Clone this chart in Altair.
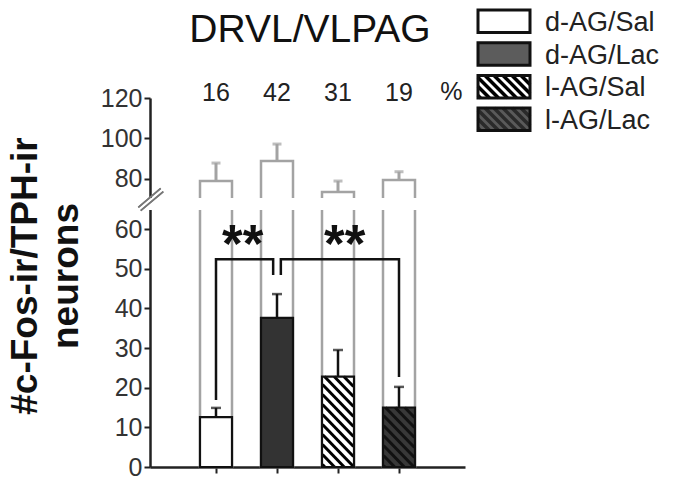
import altair as alt
import pandas as pd

# ---- data ----
groups = ["d-AG/Sal", "d-AG/Lac", "l-AG/Sal", "l-AG/Lac"]
positions = [1, 2, 3, 4]
total_tph = [78.9, 88.8, 73.5, 79.4]
total_err = [8.9, 8.4, 5.4, 4.1]
cfos = [12.6, 37.6, 22.8, 15.0]
cfos_err = [2.3, 6.0, 6.7, 5.2]
percent = ["16", "42", "31", "19"]
bar_fill = ["white", "#333333", "white", "#383838"]
hatched = [False, False, True, True]
hatch_color = ["black", "black", "black", "#111111"]
legend_fill = ["white", "#5c5c5c", "white", "#5a5a5a"]
legend_hatch = ["black", "black", "black", "#2a2a2a"]
y_ticks = [0, 10, 20, 30, 40, 50, 60, 80, 100, 120]
# significance brackets: (x, y) vertices
bracket_a_x = [1.0, 1.0, 1.937, 1.937]
bracket_a_y = [16.9, 52.4, 52.4, 48.4]
bracket_b_x = [2.063, 2.063, 4.0, 4.0]
bracket_b_y = [48.4, 52.4, 52.4, 22.7]
stars_x = [1.437, 3.11]
stars_y = [51.6, 51.6]

W, H = 315, 369
X_DOMAIN = [0, 5]
Y_DOMAIN = [0, 64.8, 70.5, 120]
Y_RANGE = [H, 112, 100, 0]
PX_X = W / (X_DOMAIN[1] - X_DOMAIN[0])
PX_Y = (Y_RANGE[0] - Y_RANGE[1]) / (Y_DOMAIN[1] - Y_DOMAIN[0])
HALF_W = 16 / PX_X
FONT = "Liberation Sans"

xs = alt.Scale(domain=X_DOMAIN, nice=False, zero=False)
ys = alt.Scale(domain=Y_DOMAIN, range=Y_RANGE, nice=False, zero=False)


def hatch_px(X0, X1, Yt, Yb, spacing):
    """diagonal '\\' lines inside a pixel rectangle (y downward)."""
    segs = []
    c = Yt - X1
    while c <= Yb - X0:
        xa = max(X0, Yt - c)
        xb = min(X1, Yb - c)
        if xb > xa:
            segs.append((xa, xa + c, xb, xb + c))
        c += spacing
    return segs


df = pd.DataFrame({
    "group": groups, "x": positions, "total": total_tph, "terr": total_err,
    "cfos": cfos, "cerr": cfos_err, "pct": percent, "fill": bar_fill,
})
df["ttop"] = df["total"] + df["terr"]
df["ctop"] = df["cfos"] + df["cerr"]

# hatch segments for bars in data space
hrows = []
for i in range(len(groups)):
    if not hatched[i]:
        continue
    X0 = (positions[i] - HALF_W) * PX_X
    X1 = (positions[i] + HALF_W) * PX_X
    Yt = -cfos[i] * PX_Y
    Yb = 0.0
    for (xa, ya, xb, yb) in hatch_px(X0, X1, Yt, Yb, 10):
        hrows.append({"x": xa / PX_X, "y": -ya / PX_Y, "x2": xb / PX_X,
                      "y2": -yb / PX_Y, "c": hatch_color[i]})
hdf = pd.DataFrame(hrows)

X = alt.X("x:Q", scale=xs, axis=alt.Axis(values=positions, labels=False, title=None,
                                          tickSize=6, tickWidth=2, tickColor="#222",
                                          domainColor="#222", domainWidth=2.5, grid=False))
Y = alt.Y("total:Q", scale=ys, axis=alt.Axis(values=y_ticks, title=None, grid=False,
                                              labelFontSize=25, labelFont=FONT,
                                              labelColor="#333", tickSize=6, tickWidth=2,
                                              tickColor="#222", domainColor="#222",
                                              domainWidth=2.5, labelPadding=2))

base = alt.Chart(df)
gray = "#a3a3a3"

tph_bars = base.mark_bar(orient="vertical", size=32, fill=None, fillOpacity=0,
                         stroke=gray, strokeWidth=2.5).encode(
    x=X, y=Y, y2=alt.datum(0))
tph_err = base.mark_rule(color=gray, strokeWidth=3).encode(
    x="x:Q", y=alt.Y("total:Q", scale=ys), y2="ttop:Q")
tph_cap = base.mark_tick(orient="horizontal", size=9, thickness=3, color=gray).encode(
    x="x:Q", y=alt.Y("ttop:Q", scale=ys))

gap = base.mark_rect(color="white").encode(
    x=alt.value(-14), x2=alt.value(W + 5), y=alt.value(Y_RANGE[2]), y2=alt.value(Y_RANGE[1]))
brk = pd.DataFrame({"a": [0, 1]})
brk1 = alt.Chart(brk).mark_rule(color="#777", strokeWidth=1.6).encode(
    x=alt.value(-11.7), x2=alt.value(10.7), y=alt.value(109.3), y2=alt.value(90.3))
brk2 = alt.Chart(brk).mark_rule(color="#777", strokeWidth=1.6).encode(
    x=alt.value(-9.3), x2=alt.value(13.3), y=alt.value(112.7), y2=alt.value(93.7))

cfos_fill = base.mark_bar(orient="vertical", size=32, strokeWidth=0).encode(
    x="x:Q", y=alt.Y("cfos:Q", scale=ys), y2=alt.datum(0),
    fill=alt.Fill("fill:N", scale=None))
hatch_lines = alt.Chart(hdf).mark_rule(strokeWidth=3).encode(
    x=alt.X("x:Q", scale=xs), x2="x2:Q", y=alt.Y("y:Q", scale=ys), y2="y2:Q",
    color=alt.Color("c:N", scale=None))
cfos_outline = base.mark_bar(orient="vertical", size=32, fill=None, fillOpacity=0,
                             stroke="#111", strokeWidth=2.2).encode(
    x="x:Q", y=alt.Y("cfos:Q", scale=ys), y2=alt.datum(0))
cfos_err_r = base.mark_rule(color="#111", strokeWidth=2.5).encode(
    x="x:Q", y=alt.Y("cfos:Q", scale=ys), y2="ctop:Q")
cfos_cap = base.mark_tick(orient="horizontal", size=10, thickness=2.5, color="#111").encode(
    x="x:Q", y=alt.Y("ctop:Q", scale=ys))

bdf = pd.DataFrame({
    "b": ["a"] * 4 + ["b"] * 4, "o": list(range(4)) * 2,
    "x": bracket_a_x + bracket_b_x, "y": bracket_a_y + bracket_b_y})
brackets = alt.Chart(bdf).mark_line(color="#111", strokeWidth=2.5).encode(
    x=alt.X("x:Q", scale=xs), y=alt.Y("y:Q", scale=ys), detail="b:N", order="o:Q")
sdf = pd.DataFrame({"x": stars_x, "y": stars_y, "t": ["**", "**"]})
stars = alt.Chart(sdf).mark_text(font=FONT, fontSize=53, fontWeight="bold",
                                 color="#111", baseline="alphabetic").encode(
    x=alt.X("x:Q", scale=xs), y=alt.Y("y:Q", scale=ys), text="t:N")

pct_text = base.mark_text(font=FONT, fontSize=25, color="#222",
                          baseline="alphabetic").encode(
    x="x:Q", y=alt.value(3), text="pct:N")
pct_sign = alt.Chart(pd.DataFrame({"x": [4.86], "t": ["%"]})).mark_text(
    font=FONT, fontSize=25, color="#222", baseline="alphabetic").encode(
    x=alt.X("x:Q", scale=xs), y=alt.value(2), text="t:N")

title = alt.Chart(pd.DataFrame({"t": ["DRVL/VLPAG"]})).mark_text(
    font=FONT, fontSize=39, color="#111", baseline="alphabetic", align="center").encode(
    x=alt.value(160), y=alt.value(-56), text="t:N")
ytitle1 = alt.Chart(pd.DataFrame({"t": ["#c-Fos-ir/TPH-ir"]})).mark_text(
    font=FONT, fontSize=37, fontWeight="bold", color="#111", angle=270,
    baseline="alphabetic", align="center").encode(
    x=alt.value(-113), y=alt.value(178), text="t:N")
ytitle2 = alt.Chart(pd.DataFrame({"t": ["neurons"]})).mark_text(
    font=FONT, fontSize=37, fontWeight="bold", color="#111", angle=270,
    baseline="alphabetic", align="center").encode(
    x=alt.value(-72), y=alt.value(178), text="t:N")

# legend (pixel space, built from the group list)
ldf = pd.DataFrame({"label": groups, "fill": legend_fill, "i": range(len(groups))})
ldf["x0"] = 328
ldf["x1"] = 380
ldf["y0"] = -88 + 32.7 * ldf["i"]
ldf["y1"] = ldf["y0"] + 22.5
ldf["ty"] = ldf["y0"] + 21
ldf["tx"] = 395
lrows = []
for i in range(len(groups)):
    if not hatched[i]:
        continue
    r = ldf.iloc[i]
    for (xa, ya, xb, yb) in hatch_px(r.x0, r.x1, r.y0, r.y1, 9):
        lrows.append({"x": xa, "y": ya, "x2": xb, "y2": yb, "c": legend_hatch[i]})
lhdf = pd.DataFrame(lrows)

leg_fill = alt.Chart(ldf).mark_rect(strokeWidth=0).encode(
    x=alt.X("x0:Q", scale=None), x2="x1:Q", y=alt.Y("y0:Q", scale=None), y2="y1:Q",
    fill=alt.Fill("fill:N", scale=None))
leg_hatch = alt.Chart(lhdf).mark_rule(strokeWidth=3.5).encode(
    x=alt.X("x:Q", scale=None), x2="x2:Q", y=alt.Y("y:Q", scale=None), y2="y2:Q",
    color=alt.Color("c:N", scale=None))
leg_box = alt.Chart(ldf).mark_rect(fill=None, fillOpacity=0, stroke="#111",
                                   strokeWidth=3).encode(
    x=alt.X("x0:Q", scale=None), x2="x1:Q", y=alt.Y("y0:Q", scale=None), y2="y1:Q")
leg_text = alt.Chart(ldf).mark_text(font=FONT, fontSize=27, color="#222", align="left",
                                    baseline="alphabetic").encode(
    x=alt.X("tx:Q", scale=None), y=alt.Y("ty:Q", scale=None), text="label:N")

chart = alt.layer(
    tph_bars, tph_err, tph_cap, cfos_fill, hatch_lines, cfos_outline,
    cfos_err_r, cfos_cap, brackets, stars, gap, brk1, brk2,
    pct_text, pct_sign, title, ytitle1, ytitle2,
    leg_fill, leg_hatch, leg_box, leg_text,
).properties(
    width=W, height=H,
    autosize=alt.AutoSizeParams(type="none"),
    padding={"left": 142, "top": 90, "right": 202, "bottom": 11},
    background="white",
).configure_view(stroke=None)

chart.save("out.html", embed_options={"renderer": "svg", "actions": False})
